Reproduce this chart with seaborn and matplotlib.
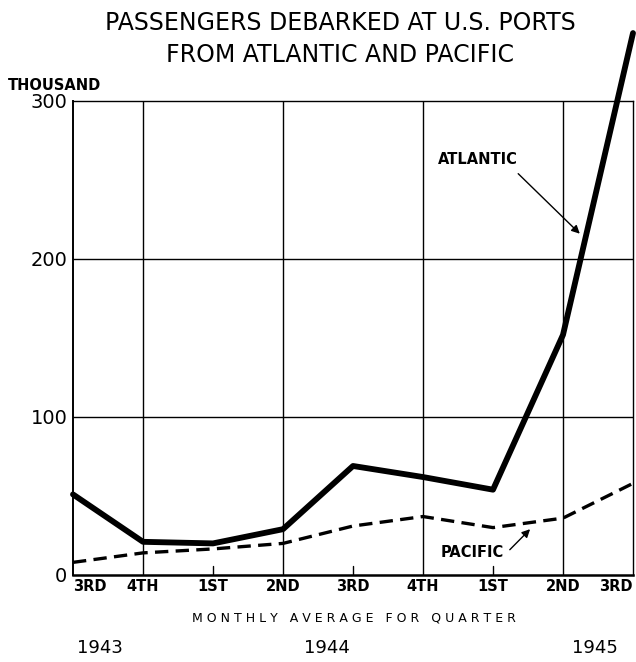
import numpy as np
import pandas as pd
import matplotlib
matplotlib.use("Agg")
import matplotlib.pyplot as plt
import seaborn as sns

# ---- data (thousand passengers, monthly average for quarter) ----
quarters = ["3RD", "4TH", "1ST", "2ND", "3RD", "4TH", "1ST", "2ND", "3RD"]
years = ["1943", "1944", "1945"]
atlantic = [51, 21, 20, 29, 69, 62, 54, 152, 343]
pacific = [8, 14, 16.5, 20, 31, 37, 30, 36, 58]

pos = np.arange(len(quarters))
df = pd.DataFrame({"q": pos, "Atlantic": atlantic, "Pacific": pacific})

sns.set_style("white")
plt.rcParams["font.family"] = ["DejaVu Sans"]
plt.rcParams["text.color"] = "black"
plt.rcParams["xtick.color"] = "black"
plt.rcParams["ytick.color"] = "black"

fig = plt.figure(figsize=(6.36, 6.62), dpi=100)
ax = fig.add_axes([73/636, 1 - 575/662, 560/636, 474/662])

# grid: horizontal at 100, 200; vertical at every other quarter
for yv in [100, 200]:
    ax.axhline(yv, color="black", lw=1.0, zorder=1)
for xv in [1, 3, 5, 7]:
    ax.axvline(xv, color="black", lw=1.0, zorder=1)
for xv in [2, 4, 6]:
    ax.plot([xv, xv], [0, 6], color="black", lw=1.0, zorder=1)

sns.lineplot(data=df, x="q", y="Atlantic", ax=ax, color="black", lw=4.2,
             zorder=3, clip_on=False)
sns.lineplot(data=df, x="q", y="Pacific", ax=ax, color="black", lw=2.4,
             linestyle=(0, (4, 2.2)), zorder=3)

ax.set_xlim(0, 8)
ax.set_ylim(0, 300)
for s in ax.spines.values():
    s.set_color("black")
    s.set_linewidth(1.0)
ax.spines["bottom"].set_linewidth(1.8)
ax.spines["left"].set_linewidth(1.4)

ax.set_yticks([0, 100, 200, 300])
ax.set_yticklabels(["0", "100", "200", "300"], fontsize=14)
ax.set_xticks(pos)
ax.set_xticklabels(quarters, fontsize=10.5, fontweight="bold")
xl = ax.get_xticklabels()
xl[0].set_ha("left")
xl[-1].set_ha("right")
ax.tick_params(axis="both", length=0, pad=4)
ax.tick_params(axis="x", pad=3)
ax.set_xlabel("")
ax.set_ylabel("")

# annotations
ax.text(5.79, 263, "ATLANTIC", fontsize=10.5, fontweight="bold",
        ha="center", va="center")
ax.annotate("", xy=(7.24, 216), xytext=(6.36, 254),
            arrowprops=dict(arrowstyle="-|>", color="black", lw=1.0,
                            shrinkA=0, shrinkB=0, mutation_scale=12))
ax.text(5.71, 14, "PACIFIC", fontsize=10.5, fontweight="bold",
        ha="center", va="center")
ax.annotate("", xy=(6.53, 29), xytext=(6.24, 16),
            arrowprops=dict(arrowstyle="-|>", color="black", lw=1.0,
                            shrinkA=0, shrinkB=0, mutation_scale=12))

fig.text(0.535, 0.966, "PASSENGERS DEBARKED AT U.S. PORTS",
         ha="center", va="center", fontsize=17)
fig.text(0.535, 0.917, "FROM ATLANTIC AND PACIFIC",
         ha="center", va="center", fontsize=17)
fig.text(0.012, 0.871, "THOUSAND", ha="left", va="center", fontsize=10.5,
         fontweight="bold")
fig.text(0.556, 0.066, "M O N T H L Y   A V E R A G E   F O R   Q U A R T E R",
         ha="center", va="center", fontsize=9)
for yr, xx in zip(years, [100, 327, 595]):
    fig.text(xx/636, 1 - 648/662, yr, ha="center", va="center", fontsize=13)

fig.savefig("out.png", dpi=100)
